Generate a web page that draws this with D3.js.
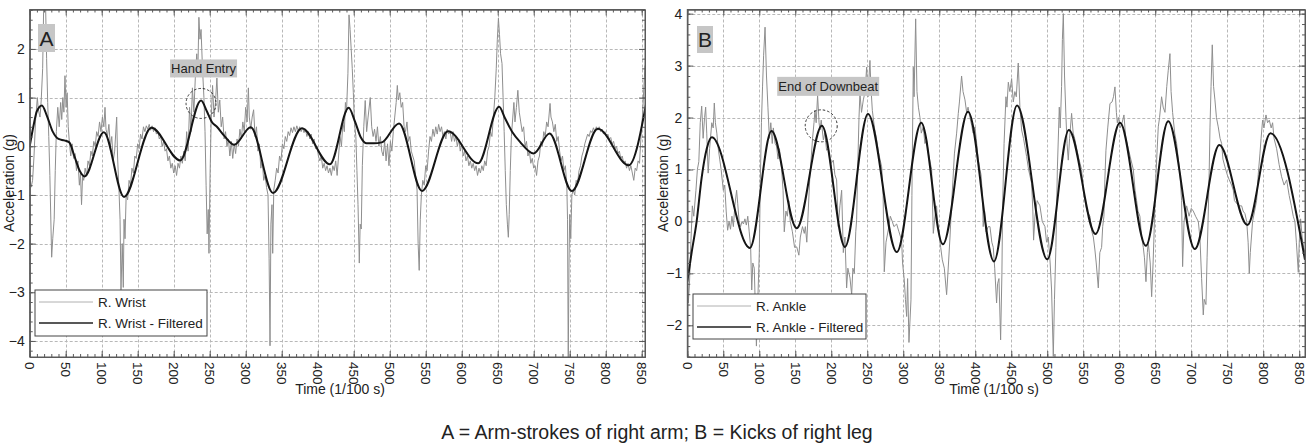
<!DOCTYPE html>
<html><head><meta charset="utf-8">
<script src="https://cdn.jsdelivr.net/npm/d3@7"></script>
<style>
body{margin:0;background:#fff}
svg{display:block}
text{font-family:"Liberation Sans",Arial,sans-serif;fill:#222}
</style>
</head><body>
<svg id="c" width="1313" height="445"></svg>
<script>
// ---------------- DATA ----------------
const xTickValues = [0,50,100,150,200,250,300,350,400,450,500,550,600,650,700,750,800,850];
const yTicksA = [-4,-3,-2,-1,0,1,2];
const yTicksB = [-2,-1,0,1,2,3,4];
const seriesNamesA = ["R. Wrist","R. Wrist - Filtered"];
const seriesNamesB = ["R. Ankle","R. Ankle - Filtered"];
const panelLetters = ["A","B"];
const annotationTexts = ["Hand Entry","End of Downbeat"];
const annotationPoints = [[238,0.88],[186,1.84]];
const xAxisTitle = "Time (1/100 s)";
const yAxisTitle = "Acceleration (g)";
const captionText = "A = Arm-strokes of right arm; B = Kicks of right leg";

// filtered signals [time, g]
const filteredA = [[0,0],[5,0.4],[10,0.72],[17,0.84],[24,0.62],[32,0.3],[40,0.15],[48,0.12],[55,0.08],[62,-0.2],[70,-0.52],[76,-0.62],[103,0.29],[131,-1.04],[169,0.38],[209,-0.29],[238,0.94],[246,0.72],[253,0.5],[260,0.4],[270,0.22],[284,0.03],[307,0.39],[338,-0.96],[378,0.37],[417,-0.37],[443,0.79],[452,0.5],[460,0.18],[468,0.06],[478,0.06],[489,0.08],[513,0.47],[545,-0.92],[581,0.31],[623,-0.35],[652,0.81],[660,0.58],[670,0.3],[681,0.09],[700,-0.15],[722,0.26],[753,-0.92],[789,0.36],[832,-0.39],[857,0.94]];
const filteredB = [[0,-1.16],[6,-0.6],[13,0],[20,0.85],[27,1.4],[34,1.62],[87,-0.51],[117,1.74],[152,-0.13],[187,1.84],[219,-0.49],[251,2.07],[291,-0.59],[325,1.9],[355,-0.44],[390,2.11],[426,-0.77],[458,2.23],[500,-0.73],[530,1.76],[567,-0.24],[601,1.9],[637,-0.47],[668,1.93],[705,-0.53],[739,1.47],[778,-0.07],[810,1.7],[858,-0.74]];

// raw signals [time, g]
const rawA = [[0,-0.65],[2,-0.84],[4,-0.7],[6,-0.2],[8,0.5],[10.6,1.0],[12,0.75],[14.3,0.6],[16,0.95],[18,1.6],[19.5,2.95],[22,2.95],[23.5,1.8],[25,0.9],[26.5,0.2],[28,-0.6],[30.5,-2.28],[32,-1.9],[34,-1.5],[35.5,-0.5],[37,0.3],[39,0.8],[41,0.4],[43,0.9],[44.5,0.55],[46,1.0],[47.5,0.7],[49,1.45],[50.5,0.8],[52,1.1],[53.5,0.4],[55,0.1],[57,-0.2],[59,0.05],[61,-0.25],[63,-0.15],[65,-0.5],[67,-0.3],[69,-0.8],[70.5,-0.55],[72,-1.2],[73.5,-0.6],[75,-0.7],[77,-0.45],[79,-0.6],[81,-0.3],[83,-0.4],[85,-0.1],[87,-0.2],[89,0.1],[91,0.0],[93,0.3],[95,0.2],[97,0.5],[99,0.3],[101,0.6],[103,0.4],[104.6,0.8],[106,0.35],[108,0.2],[110,0.45],[112,0.0],[114,0.2],[116,-0.3],[118,-0.1],[120.8,0.6],[122,-0.2],[124,-0.9],[125.5,-1.5],[126.8,-2.95],[128.5,-2.0],[130,-2.9],[131,-1.5],[132.4,-1.9],[134,-1.0],[136,-1.1],[138,-0.7],[140,-0.8],[142,-0.45],[144,-0.55],[146,-0.2],[148,-0.25],[150,0.05],[152,-0.05],[154,0.25],[156,0.15],[158,0.4],[160,0.3],[162,0.42],[164,0.35],[166,0.45],[168,0.33],[170,0.42],[172,0.3],[174,0.38],[176,0.25],[178,0.3],[180,0.15],[182,0.2],[184,0.0],[186,0.1],[188,-0.1],[190,-0.05],[192,-0.3],[194,-0.2],[196,-0.45],[198,-0.35],[200,-0.55],[202,-0.4],[204,-0.6],[206,-0.35],[208,-0.45],[210,-0.2],[212,-0.35],[214,-0.1],[216,-0.3],[218,0.3],[220,-0.1],[222,0.8],[224,0.3],[226,1.2],[228,0.7],[230,1.4],[232,1.9],[233.5,1.5],[235,2.65],[236.5,2.2],[238,2.4],[240,1.6],[242,1.0],[243.5,0.3],[245,-0.8],[246.5,-1.8],[248,-1.3],[249,-2.2],[250.5,-0.6],[252,0.5],[254,1.25],[256,0.6],[258,0.9],[260,1.4],[262,0.7],[264,0.95],[266,0.4],[268,0.6],[270,0.15],[272,0.3],[274,0.0],[276,0.15],[278,-0.2],[280,0.1],[282,-0.25],[284,0.05],[286,-0.15],[288,0.15],[290,0.0],[292,0.35],[294,0.15],[296,0.5],[298,0.3],[300,0.8],[302,0.5],[303.7,1.2],[305,0.6],[307,0.35],[309,0.6],[311,0.75],[313,0.2],[315,0.4],[317,-0.1],[319,0.05],[321,-0.45],[323,-0.3],[325,-0.7],[327,-0.6],[329,-0.85],[331,-1.0],[332.5,-2.3],[333.8,-4.1],[335,-1.6],[336.5,-1.2],[337.5,-2.2],[339,-0.9],[341,-0.7],[343,-0.45],[345,-0.55],[347,-0.2],[349,-0.3],[351,0.05],[353,-0.05],[355,0.2],[357,0.1],[359,0.3],[361,0.22],[363,0.38],[365,0.28],[367,0.4],[369,0.3],[371,0.42],[373,0.32],[375,0.4],[377,0.3],[379,0.38],[381,0.28],[383,0.35],[385,0.2],[387,0.3],[389,0.15],[391,0.25],[393,0.05],[395,0.15],[397,-0.05],[399,0.0],[401,-0.2],[403,-0.3],[405,-0.2],[407,-0.45],[409,-0.35],[411,-0.5],[413,-0.4],[415,-0.55],[417,-0.45],[419,-0.6],[421,-0.4],[423,-0.5],[425,-0.3],[427,-0.6],[429,-0.2],[431,0.2],[433,0.0],[435,0.5],[437,0.3],[438.5,0.9],[440,0.7],[442,1.5],[443.5,2.7],[445,2.4],[446.5,2.0],[448,1.6],[449.5,1.1],[451,0.5],[453,0.2],[454.5,-0.5],[456,-1.2],[457.8,-2.4],[459,-1.6],[460.5,-1.7],[462,-0.4],[464,0.4],[466,0.94],[468,0.3],[470,0.6],[473,1.0],[475,0.4],[477,0.2],[479,0.35],[481,0.1],[483,0.4],[485,0.0],[487,0.2],[489,-0.1],[491,-0.2],[493,0.1],[495,-0.3],[497,0.05],[499,-0.4],[501,0.1],[503,-0.1],[505,0.3],[507,0.6],[509,0.9],[510.6,1.25],[512,0.95],[514,1.1],[516,0.8],[518,0.9],[520,0.4],[522,0.3],[524,0.5],[526,0.1],[528,0.2],[530,-0.1],[532,-0.2],[534,-0.3],[536,-0.6],[538,-0.9],[539.5,-2.0],[541,-2.55],[542.5,-1.5],[544,-1.0],[546,-0.7],[548,-0.8],[550,-0.4],[552,-0.5],[554,-0.1],[556,0.2],[558,0.1],[560,0.35],[562,0.2],[564,0.4],[566,0.25],[568,0.45],[570,0.3],[572,0.4],[574,0.2],[576,0.3],[578,0.15],[580,0.35],[582,0.25],[584,0.3],[586,0.1],[588,0.3],[590,0.1],[592,0.2],[594,0.0],[596,0.15],[598,-0.1],[600,0.05],[602,-0.2],[604,-0.1],[606,-0.3],[608,-0.2],[610,-0.4],[612,-0.3],[614,-0.45],[616,-0.35],[618,-0.5],[620,-0.4],[622,-0.6],[624,-0.45],[626,-0.55],[628,-0.4],[630,-0.5],[632,-0.3],[634,-0.4],[636,-0.1],[638,0.0],[640,0.3],[642,0.2],[644,0.6],[646,1.0],[648,1.6],[649.5,2.2],[651,2.63],[652.5,2.3],[654,1.9],[656,1.7],[657.5,1.0],[659,0.3],[660.5,-0.5],[662,-1.2],[663.5,-1.6],[664.8,-1.87],[666,-1.4],[667.5,-0.5],[669,0.2],[671,0.6],[672.5,0.9],[674,0.5],[676,0.8],[678,1.15],[680,0.7],[682,0.5],[684,0.3],[686,0.4],[688,0.0],[690,0.1],[692,-0.2],[694,-0.1],[696,-0.35],[698,-0.25],[700,-0.45],[702,-0.4],[704,-0.6],[706,-0.3],[708,-0.2],[710,0.1],[712,0.0],[714,0.3],[716,0.2],[718,0.5],[720,0.4],[722.7,0.88],[724,0.6],[726,0.5],[728,0.3],[730,0.45],[732,0.1],[734,0.2],[736,-0.1],[738,-0.3],[740,-0.2],[742,-0.5],[744,-0.4],[746,-0.8],[747,-1.5],[748,-4.4],[749,-2.5],[750,-1.4],[751.5,-1.9],[753,-1.0],[755,-0.9],[757,-1.0],[759,-0.7],[761,-0.75],[763,-0.5],[765,-0.4],[767,-0.2],[769,-0.1],[771,0.05],[773,0.15],[775,0.25],[777,0.2],[779,0.32],[781,0.28],[783,0.38],[785,0.3],[787,0.4],[789,0.33],[791,0.4],[793,0.3],[795,0.35],[797,0.25],[799,0.3],[801,0.2],[803,0.25],[805,0.15],[807,0.18],[809,0.05],[811,0.1],[813,-0.05],[815,0.0],[817,-0.15],[819,-0.1],[821,-0.25],[823,-0.2],[825,-0.35],[827,-0.3],[829,-0.45],[831,-0.35],[833,-0.5],[835,-0.4],[837,-0.55],[839,-0.7],[841,-0.45],[843,-0.5],[845,-0.3],[847,-0.35],[849,0.2],[851,0.6],[853,1.2],[854.6,1.66]];

const rawB = [[0,-1.1],[1.4,-1.57],[3,-1.2],[5,-0.4],[7,0.3],[9,0.1],[12,0.6],[14,1.0],[16,1.15],[18,1.9],[20,2.22],[22,1.6],[24,2.0],[25.5,2.2],[27,1.7],[29,0.93],[31,1.4],[34,1.9],[36,1.8],[37.5,2.28],[39,1.9],[41,1.7],[43,1.4],[45,1.2],[47,1.0],[50,0.6],[52,0.7],[54,0.2],[56,-0.17],[58,0.0],[60,-0.15],[62,0.1],[64,-0.1],[66,0.3],[68.5,0.6],[70,0.35],[72,0.0],[74,-0.1],[76,0.0],[78,-0.05],[80,0.05],[82,-0.07],[84,0.1],[86,-0.2],[88,-0.5],[89.5,-1.32],[91,-0.8],[93,-0.9],[96,-2.4],[98,-1.5],[100,-0.6],[101.5,0.8],[103,1.9],[104.5,2.59],[106,3.2],[108,3.74],[110,2.8],[112,2.2],[114,1.6],[116,1.9],[118,1.5],[119.5,1.8],[122,1.5],[124,1.45],[126,1.2],[128,1.4],[131,1.0],[133,0.6],[134.7,-0.2],[137,0.2],[139,0.1],[141,0.4],[143,0.0],[146,-0.2],[149,-0.5],[152,-0.49],[155,-0.65],[157,-0.3],[160,-0.1],[162.5,-0.23],[164,-0.1],[166,-0.4],[168,0.2],[170,0.8],[172,1.2],[174,1.6],[176,1.9],[177.3,2.14],[179,1.9],[181,2.43],[183,1.9],[184.3,1.76],[186,1.95],[189,1.57],[191,1.7],[193.5,1.37],[196,1.4],[199,1.1],[202.8,1.18],[205,0.9],[207.4,0.8],[209.7,-0.1],[212,0.3],[214.4,0.6],[216.7,-0.6],[219,-0.3],[221.3,-1.28],[223,-0.9],[226,-1.09],[228.3,-1.41],[230,-0.9],[232,-1.0],[234,-0.2],[235.2,0.03],[237,1.2],[238.5,2.0],[239.8,2.47],[242,2.1],[244.5,2.34],[247,2.5],[249.1,2.97],[251,2.4],[253.7,3.1],[255,2.6],[257,2.14],[260,1.8],[263,1.57],[266,1.3],[270,1.05],[272,0.5],[273.6,-0.97],[276,-0.4],[279.2,-0.16],[282,0.1],[284.7,0.0],[287,-0.1],[290.8,-0.05],[294,-0.2],[297.7,-0.36],[299,-0.8],[301.4,-1.13],[303,-1.5],[304.7,-1.83],[306,-1.1],[307.9,-2.33],[310.7,-1.51],[312,0.5],[313.9,2.97],[315,2.4],[317.2,3.9],[319,2.5],[321,2.2],[323.2,2.0],[325,1.7],[327.8,1.82],[330,1.5],[332.4,1.57],[335,1.3],[339.4,1.0],[341.7,-0.23],[344,0.1],[346.3,0.3],[347.7,-0.05],[350,-0.3],[352,-0.5],[354.2,-0.74],[357,-0.9],[360.2,-1.41],[362,-1.0],[364.9,-0.3],[367,0.3],[369,0.8],[371,1.3],[374.1,1.7],[376.4,2.08],[378,2.3],[381,2.8],[383,2.5],[385.7,2.34],[388,2.1],[390,2.2],[392.6,2.0],[395,1.85],[397,1.7],[399.6,1.82],[402,1.5],[404,1.2],[406.5,1.0],[408,0.9],[410,0.5],[411,-0.1],[413,0.2],[415,-0.2],[418,-0.1],[420.4,-0.1],[423,-0.4],[425,-0.5],[427,-0.9],[429.6,-1.57],[431,-1.2],[432.9,-1.1],[435.2,-2.28],[437,-1.0],[438,0.3],[440,1.5],[442.6,2.4],[444,2.2],[445.9,2.68],[448,2.5],[450.5,2.75],[452.8,2.3],[455,2.5],[457,2.4],[459.7,3.05],[462,2.2],[464.4,1.76],[467,1.6],[471.3,1.25],[474,1.0],[478.3,0.73],[480,0.2],[481,-0.36],[482.9,0.1],[486,0.4],[489.8,0.3],[493,0.0],[496.8,-0.1],[499,-0.4],[501.4,-0.3],[504,-0.8],[506,-1.32],[508.4,-2.6],[510,-1.5],[512,-0.5],[514,1.0],[516.7,2.2],[518,1.8],[519.9,2.6],[521,3.5],[522.3,4.0],[524,2.8],[526,2.0],[527.5,1.5],[529.2,1.18],[531,1.6],[533.8,2.08],[536,1.7],[538,1.6],[540.8,1.4],[544,1.2],[547.7,1.0],[550,0.6],[552.3,0.4],[555,0.2],[559.3,0.1],[562,-0.2],[564,-0.3],[566.2,-0.55],[568,-0.8],[570.9,-1.28],[573,-0.6],[575.5,-0.5],[577,-0.1],[578.7,0.1],[580,0.8],[581.5,1.37],[584,1.8],[587.1,2.27],[590,2.3],[592,2.4],[594,2.59],[596,2.1],[597.3,1.9],[599,2.0],[601,1.8],[604,1.9],[606.5,2.05],[609,1.6],[612.6,1.4],[616,1.2],[619.5,1.0],[622,0.6],[624.1,0.4],[626,0.2],[628.7,0.1],[631,-0.3],[633.4,-0.5],[635,-0.7],[637.1,-1.16],[639,-0.6],[640.3,-0.4],[643,-0.8],[645,-1.45],[647,-0.8],[648.2,-0.3],[650,0.6],[652,1.2],[654.2,1.82],[656,2.0],[658.8,2.4],[661,2.2],[663.5,2.1],[666,2.6],[668,2.9],[670.4,3.23],[672,2.5],[674.1,2.1],[677,1.7],[679.7,1.5],[682,1.2],[684.3,0.9],[686.6,0.4],[688,-0.87],[690,0.0],[693.6,0.3],[697,0.1],[700,0.25],[702.8,0.2],[706,0.1],[709.8,0.0],[712,-0.3],[714.4,-1.1],[716.7,-1.8],[718,-1.5],[720.4,-1.6],[722,-0.7],[723.7,0.2],[725,1.0],[726,1.8],[727.5,2.6],[729.2,3.4],[731,2.6],[732.9,2.34],[735,2.0],[737.5,1.82],[740,1.6],[742.2,1.5],[744,1.2],[746.8,1.05],[750,0.9],[752.8,0.8],[756,0.7],[758.4,0.6],[760,0.4],[763,0.35],[766,0.3],[770,0.3],[772,0.2],[774.6,0.15],[777,0.0],[779,-0.4],[780.6,-1.0],[782,-0.6],[785.2,0.0],[788,0.2],[790.8,0.4],[793,0.9],[795.4,1.3],[797,1.6],[799.1,1.95],[801,1.8],[803.8,2.05],[806,1.9],[808.4,1.95],[811,1.8],[813,1.9],[815,1.6],[818.6,1.4],[822,1.1],[825.5,0.86],[829,0.7],[832.5,0.8],[836,0.5],[839,0.3],[841.7,0.1],[844,0.0],[846,-0.4],[848.7,-0.98],[850,-0.4],[851.9,0.05],[854,-0.3],[856,-0.5],[858,-0.6]];

// ---------------- LAYOUT ----------------
const panels = [
  {id:"A", left:29.7, right:645, top:9.5, bottom:357, xMax:854.6, yMin:-4.33, yMax:2.81, yTicks:yTicksA,
   raw:rawA, filt:filteredA, names:seriesNamesA, letter:panelLetters[0], letterBox:[8.3,14.5,17,28],
   ann:annotationTexts[0], annPt:annotationPoints[0], annR:15, annBox:[-31,-44,67,18],
   legend:[5.3,290,172,46], yTitleX:9, xTitleX:340},
  {id:"B", left:687.3, right:1305, top:9.5, bottom:357, xMax:858, yMin:-2.61, yMax:4.08, yTicks:yTicksB,
   raw:rawB, filt:filteredB, names:seriesNamesB, letter:panelLetters[1], letterBox:[9.7,16.5,16,27],
   ann:annotationTexts[1], annPt:annotationPoints[1], annR:16, annBox:[-44,-49,102,19],
   legend:[5.7,294,173,45], yTitleX:663, xTitleX:994}
];

const svg = d3.select("#c");
const frameColor = "#5a5a5a";

panels.forEach((p, i) => {
  const x = d3.scaleLinear().domain([0, p.xMax]).range([p.left, p.right]);
  const y = d3.scaleLinear().domain([p.yMin, p.yMax]).range([p.bottom, p.top]);
  const g = svg.append("g");

  const cid = "clip" + p.id;
  svg.append("clipPath").attr("id", cid).append("rect")
    .attr("x", p.left).attr("y", p.top).attr("width", p.right - p.left).attr("height", p.bottom - p.top);

  // grid
  const grid = g.append("g").attr("stroke", "#b8b8b8").attr("stroke-width", 1).attr("stroke-dasharray", "3,2");
  grid.selectAll("line.v").data(xTickValues.filter(d => d > 0)).join("line")
    .attr("x1", d => Math.round(x(d)) + 0.5).attr("x2", d => Math.round(x(d)) + 0.5)
    .attr("y1", p.top).attr("y2", p.bottom);
  grid.selectAll("line.h").data(p.yTicks).join("line")
    .attr("y1", d => Math.round(y(d)) + 0.5).attr("y2", d => Math.round(y(d)) + 0.5)
    .attr("x1", p.left).attr("x2", p.right);

  // lines
  const plot = g.append("g").attr("clip-path", `url(#${cid})`);
  const rawLine = d3.line().x(d => x(d[0])).y(d => y(d[1]));
  const filtLine = d3.line().x(d => x(d[0])).y(d => y(d[1])).curve(d3.curveMonotoneX);
  plot.append("path").datum(p.raw).attr("d", rawLine)
    .attr("fill", "none").attr("stroke", "#8e8e8e").attr("stroke-width", 1).attr("stroke-linejoin", "round");
  plot.append("path").datum(p.filt).attr("d", filtLine)
    .attr("fill", "none").attr("stroke", "#151515").attr("stroke-width", 2);

  // axes
  const minorX = d3.range(0, p.xMax, 10);
  const minorY = d3.range(Math.ceil(p.yMin * 5), Math.floor(p.yMax * 5) + 1).map(d => d / 5);
  const styleAxis = sel => { sel.selectAll("path.domain").attr("stroke", frameColor);
                             sel.selectAll(".tick line").attr("stroke", frameColor); };

  g.append("g").attr("transform", `translate(0,${p.bottom})`)
    .call(d3.axisBottom(x).tickValues(minorX).tickSizeInner(-3).tickSizeOuter(0).tickFormat(""))
    .call(styleAxis);
  const bAx = g.append("g").attr("transform", `translate(0,${p.bottom})`)
    .call(d3.axisBottom(x).tickValues(xTickValues).tickSizeInner(-6).tickSizeOuter(0).tickFormat(d3.format("d")))
    .call(styleAxis);
  bAx.selectAll("text").attr("y", 0).attr("x", 5).attr("dy", "0.36em")
    .attr("transform", "rotate(90)").style("text-anchor", "start")
    .attr("font-size", 13.5).attr("fill", "#222").attr("font-family", '"Liberation Sans",Arial,sans-serif');

  g.append("g").attr("transform", `translate(0,${p.top})`)
    .call(d3.axisTop(x).tickValues(minorX).tickSizeInner(-3).tickSizeOuter(0).tickFormat(""))
    .call(styleAxis);
  g.append("g").attr("transform", `translate(0,${p.top})`)
    .call(d3.axisTop(x).tickValues(xTickValues).tickSizeInner(-6).tickSizeOuter(0).tickFormat(""))
    .call(styleAxis);

  g.append("g").attr("transform", `translate(${p.left},0)`)
    .call(d3.axisLeft(y).tickValues(minorY).tickSizeInner(-3).tickSizeOuter(0).tickFormat(""))
    .call(styleAxis);
  const lAx = g.append("g").attr("transform", `translate(${p.left},0)`)
    .call(d3.axisLeft(y).tickValues(p.yTicks).tickSizeInner(-6).tickSizeOuter(0).tickPadding(5).tickFormat(d3.format("d")))
    .call(styleAxis);
  lAx.selectAll("text").attr("font-size", 14).attr("fill", "#222").attr("font-family", '"Liberation Sans",Arial,sans-serif');

  g.append("g").attr("transform", `translate(${p.right},0)`)
    .call(d3.axisRight(y).tickValues(minorY).tickSizeInner(-3).tickSizeOuter(0).tickFormat(""))
    .call(styleAxis);
  g.append("g").attr("transform", `translate(${p.right},0)`)
    .call(d3.axisRight(y).tickValues(p.yTicks).tickSizeInner(-6).tickSizeOuter(0).tickFormat(""))
    .call(styleAxis);

  g.append("rect").attr("x", p.left).attr("y", p.top).attr("width", p.right - p.left).attr("height", p.bottom - p.top)
    .attr("fill", "none").attr("stroke", frameColor).attr("stroke-width", 1);

  // panel letter
  const lb = p.letterBox;
  g.append("rect").attr("x", p.left + lb[0]).attr("y", p.top + lb[1]).attr("width", lb[2]).attr("height", lb[3]).attr("fill", "#c6c6c6");
  g.append("text").attr("x", p.left + lb[0] + lb[2] / 2).attr("y", p.top + lb[1] + lb[3] / 2).attr("dy", "0.36em")
    .attr("text-anchor", "middle").attr("font-size", 21).text(p.letter);

  // annotation
  const cx = x(p.annPt[0]), cy = y(p.annPt[1]);
  g.append("circle").attr("cx", cx).attr("cy", cy).attr("r", p.annR)
    .attr("fill", "none").attr("stroke", "#333").attr("stroke-width", 1).attr("stroke-dasharray", "2.5,2");
  const ab = p.annBox;
  g.append("rect").attr("x", cx + ab[0]).attr("y", cy + ab[1]).attr("width", ab[2]).attr("height", ab[3]).attr("fill", "#c6c6c6");
  g.append("text").attr("x", cx + ab[0] + ab[2] / 2).attr("y", cy + ab[1] + ab[3] / 2).attr("dy", "0.36em")
    .attr("text-anchor", "middle").attr("font-size", 13).text(p.ann);

  // legend
  const lg = p.legend;
  const L = g.append("g").attr("transform", `translate(${p.left + lg[0]},${lg[1]})`);
  L.append("rect").attr("width", lg[2]).attr("height", lg[3]).attr("fill", "#fff").attr("stroke", "#444").attr("stroke-width", 1);
  const rows = [{name:p.names[0], color:"#b0b0b0", w:1}, {name:p.names[1], color:"#202020", w:1.3}];
  rows.forEach((r, k) => {
    const yy = 12 + k * 21;
    L.append("line").attr("x1", 4).attr("x2", 58).attr("y1", yy).attr("y2", yy).attr("stroke", r.color).attr("stroke-width", r.w);
    L.append("text").attr("x", 63).attr("y", yy).attr("dy", "0.36em").attr("font-size", 13.5).text(r.name);
  });

  // axis titles
  g.append("text").attr("transform", `translate(${p.yTitleX},${183}) rotate(-90)`).attr("dy", "0.36em")
    .attr("text-anchor", "middle").attr("font-size", 14).text(yAxisTitle);
  g.append("text").attr("x", p.xTitleX).attr("y", 394).attr("text-anchor", "middle").attr("font-size", 14).text(xAxisTitle);
});

// caption
svg.append("text").attr("x", 657).attr("y", 439).attr("text-anchor", "middle")
  .attr("font-size", 19.5).attr("fill", "#111").text(captionText);
</script>
</body></html>
